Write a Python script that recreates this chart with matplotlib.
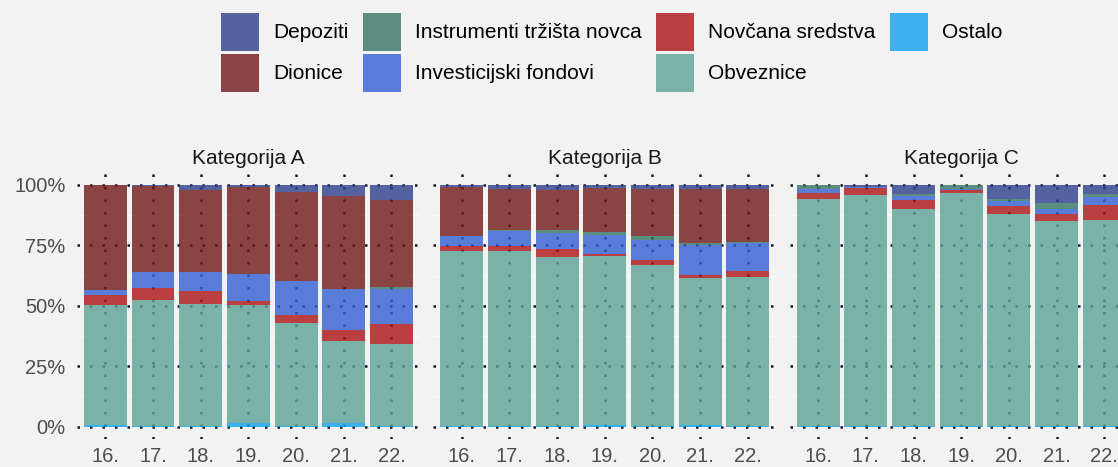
#!/usr/bin/env python3

import matplotlib

matplotlib.use("Agg")
import matplotlib.pyplot as plt
import numpy as np
from matplotlib.patches import Patch
from matplotlib.ticker import PercentFormatter

plt.rcParams["font.family"] = ["Liberation Sans", "DejaVu Sans"]

years = ["16.", "17.", "18.", "19.", "20.", "21.", "22."]
panels = ["Kategorija A", "Kategorija B", "Kategorija C"]

# legend order (top of stack first)
assets = [
    "Depoziti",
    "Dionice",
    "Instrumenti tržišta novca",
    "Investicijski fondovi",
    "Novčana sredstva",
    "Obveznice",
    "Ostalo",
]

# shares in %, per panel, per asset, per year
depoziti_a = [0.0, 0.3, 1.9, 0.8, 2.9, 4.4, 6.2]
dionice_a = [43.4, 35.7, 34.1, 36.2, 36.8, 38.6, 36.0]
instrumenti_a = [0.0, 0.0, 0.0, 0.0, 0.0, 0.0, 0.8]
fondovi_a = [2.3, 6.5, 8.0, 11.0, 14.2, 17.1, 14.7]
novcana_a = [4.0, 5.1, 5.2, 1.8, 3.3, 4.5, 8.0]
obveznice_a = [49.6, 52.1, 50.4, 48.8, 42.4, 33.7, 34.0]
ostalo_a = [0.7, 0.3, 0.4, 1.4, 0.4, 1.7, 0.3]

depoziti_b = [1.0, 1.7, 1.9, 1.1, 1.7, 1.7, 1.7]
dionice_b = [20.0, 16.9, 16.9, 18.5, 19.4, 22.4, 21.7]
instrumenti_b = [0.0, 0.4, 1.2, 1.2, 1.5, 0.9, 0.6]
fondovi_b = [4.2, 6.1, 6.5, 7.9, 8.4, 12.2, 11.6]
novcana_b = [2.2, 2.2, 3.4, 0.7, 2.1, 1.1, 2.6]
obveznice_b = [72.3, 72.5, 69.7, 69.9, 66.7, 61.1, 61.5]
ostalo_b = [0.3, 0.2, 0.4, 0.7, 0.2, 0.6, 0.3]

depoziti_c = [0.0, 0.7, 3.6, 0.0, 5.9, 7.6, 3.7]
dionice_c = [0.0, 0.0, 0.0, 0.0, 0.0, 0.0, 0.0]
instrumenti_c = [1.7, 0.0, 1.0, 1.5, 0.9, 2.5, 1.4]
fondovi_c = [1.6, 0.4, 1.5, 0.4, 1.9, 1.9, 3.0]
novcana_c = [2.4, 3.0, 3.7, 1.3, 3.4, 3.0, 6.4]
obveznice_c = [94.1, 95.8, 90.0, 96.4, 87.7, 84.8, 85.3]
ostalo_c = [0.2, 0.1, 0.2, 0.4, 0.2, 0.2, 0.2]

data = {
    "Kategorija A": [depoziti_a, dionice_a, instrumenti_a, fondovi_a, novcana_a, obveznice_a, ostalo_a],
    "Kategorija B": [depoziti_b, dionice_b, instrumenti_b, fondovi_b, novcana_b, obveznice_b, ostalo_b],
    "Kategorija C": [depoziti_c, dionice_c, instrumenti_c, fondovi_c, novcana_c, obveznice_c, ostalo_c],
}

BG = "#F2F2F2"
ALPHA = 0.8
# colours as they appear on the grey background
shown = ["#5562A0", "#8B4444", "#5D8C80", "#5A7CD9", "#B93F40", "#7AB2A8", "#3DB1EE"]


def base_colour(hex_col):
    # undo the alpha blend over the background
    rgb = np.array(matplotlib.colors.to_rgb(hex_col))
    bg = np.array(matplotlib.colors.to_rgb(BG))
    return tuple(np.clip((rgb - (1 - ALPHA) * bg) / ALPHA, 0, 1))


colours = [base_colour(c) for c in shown]

W, H = 1118, 467
fig = plt.figure(figsize=(W / 100, H / 100), dpi=100, facecolor=BG)

panel_left = [76.7, 433.1, 789.5]
panel_w = 343.4
panel_top, panel_bot = 172.9, 438.8

dots = dict(color="#141826", lw=1.8, ls=(0, (1, 4)), zorder=0)

x = np.arange(len(years))
for i, name in enumerate(panels):
    ax = fig.add_axes(
        [panel_left[i] / W, 1 - panel_bot / H, panel_w / W, (panel_bot - panel_top) / H]
    )
    ax.set_facecolor(BG)
    for s in ax.spines.values():
        s.set_visible(False)

    # grid below the bars
    for yv in [0.125, 0.375, 0.625, 0.875]:
        ax.axhline(yv, color="#FAFAFA", lw=0.8, zorder=0)
    for yv in [0, 0.25, 0.5, 0.75, 1.0]:
        ax.axhline(yv, **dots)
    for xv in x:
        ax.axvline(xv, **dots)

    # stack from bottom: reverse of legend order
    bottom = np.zeros(len(years))
    for series, col in zip(data[name][::-1], colours[::-1]):
        vals = np.array(series) / 100
        ax.bar(x, vals, width=0.9, bottom=bottom, color=col, alpha=ALPHA, lw=0, zorder=2)
        bottom += vals

    ax.set_xlim(-0.6, 6.6)
    ax.set_ylim(-0.05, 1.05)
    ax.set_xticks(x)
    ax.set_xticklabels(years)
    ax.set_yticks([0, 0.25, 0.5, 0.75, 1.0])
    ax.yaxis.set_major_formatter(PercentFormatter(1.0, decimals=0))
    ax.tick_params(length=0, labelsize=14.5, colors="#4D4D4D")
    ax.tick_params(axis="x", pad=6)
    ax.tick_params(axis="y", pad=8)
    if i > 0:
        ax.set_yticklabels([])
    ax.text(0.5, 1.055, name, transform=ax.transAxes, ha="center", va="center",
            fontsize=15, color="#1A1A1A")

handles = [Patch(facecolor=c, alpha=ALPHA, lw=0) for c in colours]
fig.legend(
    handles,
    assets,
    loc="center",
    bbox_to_anchor=(612 / W, 1 - 52.4 / H),
    ncol=4,
    frameon=False,
    fontsize=15,
    handlelength=1.82,
    handleheight=2.42,
    handletextpad=0.67,
    labelspacing=0.15,
    columnspacing=0.7,
    borderpad=0,
)

fig.savefig("out.png", dpi=100, facecolor=BG)
